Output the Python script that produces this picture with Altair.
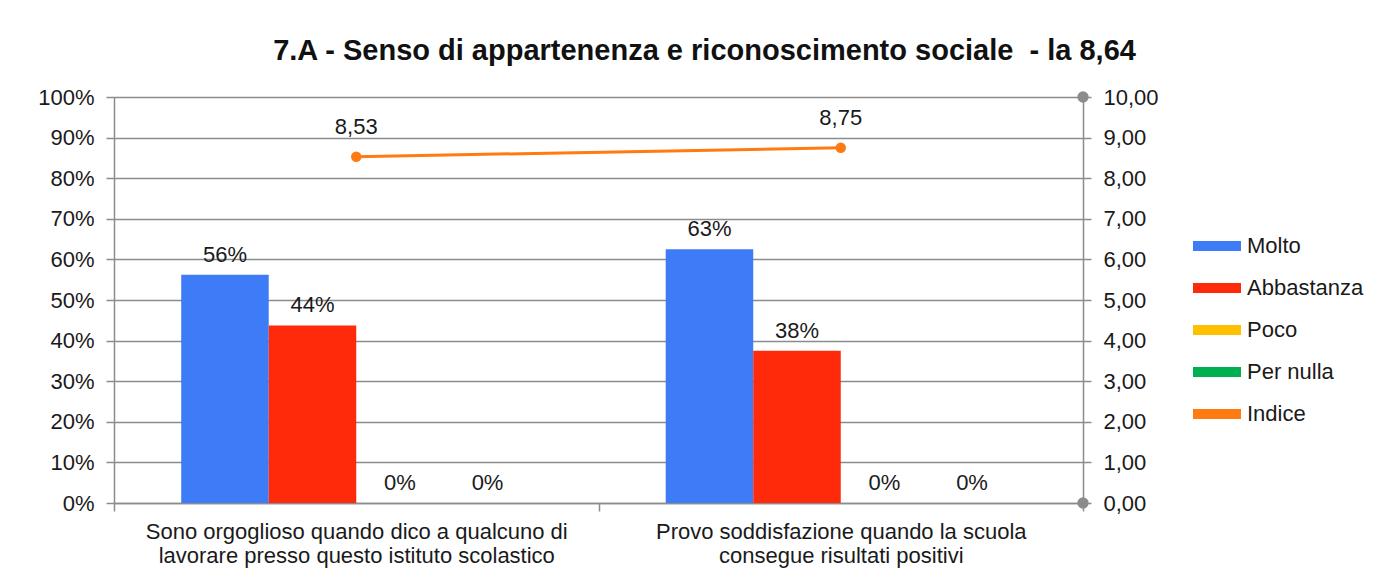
import altair as alt
import pandas as pd

title_text = "7.A - Senso di appartenenza e riconoscimento sociale \u00a0- la 8,64"
categories = [
    "Sono orgoglioso quando dico a qualcuno di lavorare presso questo istituto scolastico",
    "Provo soddisfazione quando la scuola consegue risultati positivi",
]
category_lines = [
    ["Sono orgoglioso quando dico a qualcuno di", "lavorare presso questo istituto scolastico"],
    ["Provo soddisfazione quando la scuola", "consegue risultati positivi"],
]
series = ["Molto", "Abbastanza", "Poco", "Per nulla"]
molto = [0.5625, 0.625]
abbastanza = [0.4375, 0.375]
poco = [0.0, 0.0]
per_nulla = [0.0, 0.0]
indice_name = "Indice"
indice = [8.53, 8.75]
colors = ["#3D7BF7", "#FF2A0A", "#FFC000", "#00B050", "#FF7A10"]
left_ticks = [0, 0.1, 0.2, 0.3, 0.4, 0.5, 0.6, 0.7, 0.8, 0.9, 1.0]
right_ticks = [0, 1, 2, 3, 4, 5, 6, 7, 8, 9, 10]
right_ends = [0, 10]

W, H = 969, 406

rows = []
for s, vals in zip(series, [molto, abbastanza, poco, per_nulla]):
    for c, v in zip(categories, vals):
        rows.append({"cat": c, "serie": s, "val": v})
bars_df = pd.DataFrame(rows)
line_df = pd.DataFrame({"cat": categories, "serie": [indice_name] * 2, "val": indice})
ends_df = pd.DataFrame({"val": right_ends})

label_expr = " : ".join(
    [f"datum.value == '{c}' ? {lines!r}" for c, lines in zip(categories, category_lines)]
) + " : datum.value"

color_scale = alt.Scale(domain=series + [indice_name], range=colors)
font = "Liberation Sans"
FS = 22
txt = "#1a1a1a"
axc = "#8c8c8c"

x_scale = alt.Scale(paddingInner=0, paddingOuter=0)
off_scale = alt.Scale(paddingInner=0, paddingOuter=0.768)
y2_scale = alt.Scale(domain=[0, 10])

x_enc = alt.X(
    "cat:N",
    sort=categories,
    scale=x_scale,
    axis=alt.Axis(
        title=None,
        labelAngle=0,
        labelExpr=label_expr,
        labelFontSize=FS,
        labelLineHeight=24,
        labelPadding=10,
        labelLimit=0,
        labelColor=txt,
        labelFont=font,
        tickBand="extent",
        tickSize=8,
        tickColor=axc,
        tickWidth=1.5,
        domainColor=axc,
        domainWidth=1.5,
    ),
)

right_axis = alt.Axis(
    title=None,
    orient="right",
    values=right_ticks,
    labelExpr="replace(format(datum.value, '.2f'), '.', ',')",
    grid=False,
    domainColor=axc,
    domainWidth=1.5,
    tickColor=axc,
    tickWidth=1.5,
    tickSize=8,
    labelFontSize=FS,
    labelColor=txt,
    labelFont=font,
    labelPadding=12,
)

bars = alt.Chart(bars_df).mark_bar().encode(
    x=x_enc,
    xOffset=alt.XOffset("serie:N", sort=series, scale=off_scale),
    y=alt.Y(
        "val:Q",
        scale=alt.Scale(domain=[0, 1]),
        axis=alt.Axis(
            title=None,
            values=left_ticks,
            format=".0%",
            orient="left",
            grid=True,
            gridColor=axc,
            gridWidth=1.5,
            domainColor=axc,
            domainWidth=1.5,
            tickColor=axc,
            tickWidth=1.5,
            tickSize=8,
            labelFontSize=FS,
            labelColor=txt,
            labelFont=font,
            labelPadding=12,
        ),
    ),
    color=alt.Color("serie:N", scale=color_scale, title=None),
)

bar_text = alt.Chart(bars_df).mark_text(
    baseline="bottom", dy=-8, fontSize=FS, font=font, color=txt
).encode(
    x=alt.X("cat:N", sort=categories, scale=x_scale),
    xOffset=alt.XOffset("serie:N", sort=series, scale=off_scale),
    y="val:Q",
    text=alt.Text("val:Q", format=".0%"),
)

left = alt.layer(bars, bar_text)

line = alt.Chart(line_df).mark_line(strokeWidth=3).encode(
    x=alt.X("cat:N", sort=categories, scale=x_scale),
    y=alt.Y("val:Q", scale=y2_scale, axis=right_axis),
    color=alt.Color("serie:N", scale=color_scale, title=None),
)
pts = alt.Chart(line_df).mark_point(filled=True, size=110, opacity=1).encode(
    x=alt.X("cat:N", sort=categories, scale=x_scale),
    y=alt.Y("val:Q", scale=y2_scale, axis=right_axis),
    color=alt.Color("serie:N", scale=color_scale, title=None),
)
line_text = alt.Chart(line_df).transform_calculate(
    lab="replace(format(datum.val, '.2f'), '.', ',')"
).mark_text(baseline="bottom", dy=-18, fontSize=FS, font=font, color=txt).encode(
    x=alt.X("cat:N", sort=categories, scale=x_scale),
    y=alt.Y("val:Q", scale=y2_scale, axis=right_axis),
    text="lab:N",
)
ends = alt.Chart(ends_df).mark_circle(size=130, opacity=1, color=axc).encode(
    x=alt.value(W),
    y=alt.Y("val:Q", scale=y2_scale, axis=right_axis),
)
right = alt.layer(line, pts, line_text, ends)

chart = (
    alt.layer(left, right)
    .resolve_scale(y="independent")
    .properties(
        width=W,
        height=H,
        autosize=alt.AutoSizeParams(type="none"),
        padding={"left": 106, "top": 89, "right": 305, "bottom": 75},
        title=alt.TitleParams(
            text=title_text,
            fontSize=29,
            fontWeight="bold",
            font=font,
            color="#111111",
            anchor="middle",
            frame="group",
            dx=106,
            offset=20,
        ),
    )
    .configure_view(stroke=None)
    .configure_legend(
        orient="none",
        legendX=1092,
        legendY=138,
        padding=0,
        symbolType="M-2.4,-0.5H2.4V0.5H-2.4Z",
        symbolSize=400,
        symbolStrokeWidth=0,
        labelFontSize=FS,
        labelFont=font,
        labelColor=txt,
        labelOffset=19,
        rowPadding=20,
    )
)

chart.save("out.html", embed_options={"renderer": "svg", "actions": False})
